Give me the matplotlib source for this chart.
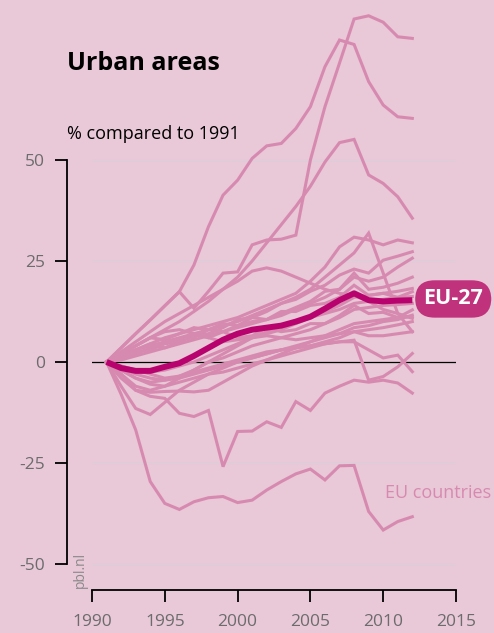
import numpy as np
import matplotlib
matplotlib.use("Agg")
import matplotlib.pyplot as plt

# years on the x axis
years = list(range(1991, 2013))

# urban area per EU country, % compared to 1991
country_a = [0, 3.5, 7, 10.4, 13.9, 17.4, 13.3, 17.5, 22, 22.3, 29, 30.2, 30.4, 31.4, 50, 63.2, 74, 84.9, 85.7, 84.1, 80.5, 80.1]
country_b = [0, 3.5, 7, 10.4, 13.9, 17.4, 24, 33.5, 41.3, 45, 50.4, 53.5, 54.1, 57.8, 63.2, 73.1, 79.7, 78.6, 69.4, 63.6, 60.7, 60.3]
country_c = [0, 2, 4, 6, 8, 10, 12.5, 15, 18, 21, 25, 29.5, 34, 38.5, 43.5, 49.5, 54.3, 55.1, 46.3, 44.2, 40.9, 35.6]
country_d = [0, -8, -16.8, -29.6, -35, -36.5, -34.6, -33.6, -33.3, -34.8, -34.2, -31.7, -29.6, -27.7, -26.5, -29.2, -25.7, -25.6, -37, -41.6, -39.5, -38.3]
country_e = [0, -4, -7, -8.5, -9, -12.7, -13.5, -12, -25.9, -17.2, -17.1, -14.8, -16.2, -9.8, -12, -7.7, -6, -4.5, -5, -4.5, -5.2, -7.7]
country_f = [0, -6, -11.5, -13, -10, -7, -5, -3, -1.5, 0, 1, 2, 3, 4, 5, 6, 7, 8.5, 9, 10, 10.5, 11.6]
country_g = [0, 1, 2, 3.5, 5, 6, 7, 8, 9, 10, 11.5, 13, 14.5, 16, 18, 21, 24, 27, 31.9, 22, 12, 7.5]
country_h = [0, 1.5, 3, 4.5, 6, 7, 8, 9, 10, 11, 12.5, 14, 15.5, 17, 20, 23.5, 28.5, 30.9, 30.2, 29, 30.2, 29.5]
country_i = [0, 2.5, 5, 7.5, 10, 12, 14, 16, 18, 20, 22.5, 23.3, 22.5, 21, 19.5, 18, 17, 16.5, 15, 13, 12, 10.8]
country_j = [0, 1, 2.5, 3, 4.5, 5, 6.5, 7, 8.5, 10.5, 11, 12.5, 14.5, 15.5, 17.5, 19, 21.5, 23, 22, 25.2, 26.2, 27.3]
country_k = [0, 0.5, 1.5, 2.5, 3.5, 4.5, 5.5, 6.5, 7.5, 8.5, 9.5, 10.5, 11.5, 13, 14.5, 16, 18, 21, 20, 21, 23.5, 25.7]
country_l = [0, 1.5, 3, 4, 5, 5.5, 6, 8, 7.5, 9, 11, 10.5, 12, 13.5, 15, 17.5, 18, 22, 18, 18.5, 19.5, 21]
country_m = [0, -1, -2, -2.5, -2, -1, 0, 1.5, 3, 4.5, 6, 7, 8, 9.5, 11, 12.5, 14, 16, 16.5, 17, 17.5, 18.2]
country_n = [0, 2, 4, 6, 5.5, 7, 8.5, 8, 9.5, 9, 10, 10.5, 12.5, 12.5, 14, 14.5, 16, 19, 16.5, 17, 16, 17.4]
country_o = [0, -2, -4, -5, -4.5, -3.5, -2, 0, 2, 4, 6, 7.5, 9, 10, 11, 12, 13, 14.5, 15, 15.5, 16, 16.2]
country_p = [0, -3, -6, -7, -6, -4, -2, 0, 1, 2.5, 4, 5, 6, 7, 8, 9.5, 11, 13, 13.5, 14, 14.2, 14.5]
country_q = [0, 2, 3, 4.5, 3.5, 5, 7, 6, 7.5, 6, 6.5, 8.5, 7.5, 8, 9.5, 9.5, 11.5, 14, 12, 12.3, 11, 12.9]
country_r = [0, -1.5, -3, -4, -4.5, -4, -3, -2, -1, 0, 1, 2, 3, 3.5, 4, 5, 6, 7.5, 8, 8.5, 9.2, 10]
country_s = [0, -2, -4, -5.5, -6, -5, -4, -3, -2.5, -1.5, -0.5, 0.5, 1.5, 2.5, 3.5, 4.5, 5, 5.4, -4.5, -3.6, -1.2, 2.1]
country_t = [0, -1, -2, -3, -4, -3.5, -2.5, -1.5, -0.5, 0.5, 1.5, 2.5, 3, 3.5, 4, 4.5, 5, 5, 3, 1, 1.7, -2.4]
country_u = [0, -3, -7, -7.5, -7.3, -7.2, -7.4, -7, -5, -3, -1, 0.5, 2, 3.5, 5, 6.5, 8, 9.5, 10, 10.5, 11, 11.2]
country_v = [0, 2, 4, 6, 7.5, 8, 7, 6, 5, 5.5, 6, 6.5, 6, 5.5, 6, 6.5, 7, 7.5, 6.5, 6.5, 7, 7.5]

countries = [country_a, country_b, country_c, country_d, country_e, country_f, country_g,
             country_h, country_i, country_j, country_k, country_l, country_m, country_n,
             country_o, country_p, country_q, country_r, country_s, country_t, country_u,
             country_v]

eu27 = [0, -1.5, -2.2, -2.2, -1.2, -0.3, 1.5, 3.5, 5.5, 7, 8, 8.5, 9, 10, 11.2, 13.2, 15.3, 17, 15.3, 15, 15.2, 15.3]

yticks = [-50, -25, 0, 25, 50]
xticks = [1990, 1995, 2000, 2005, 2010, 2015]

bg = "#e9c8d8"
pink = "#d78aaf"
magenta = "#b8036e"
grey = "#6c6c6c"

plt.rcParams["font.family"] = ["Open Sans", "DejaVu Sans"]
plt.rcParams["axes.unicode_minus"] = False

fig = plt.figure(figsize=(4.94, 6.33), dpi=100, facecolor=bg)
ax = fig.add_axes([92 / 494, 43 / 633, 364 / 494, 580 / 633])
ax.set_facecolor(bg)
ax.set_xlim(1990, 2015)
ax.set_ylim(-56.44, 87.13)

# grid lines and zero line
for v in [-50, -25, 25, 50]:
    ax.axhline(v, color="#dccfd8", lw=0.9, zorder=1)
ax.axhline(0, color="black", lw=0.9, zorder=2)

for c in countries:
    ax.plot(years, c, color=pink, lw=2.2, solid_joinstyle="miter", zorder=3, clip_on=False)
ax.plot(years, eu27, color=magenta, lw=4.3, solid_capstyle="butt", zorder=4, clip_on=False)

# axes styling
for s in ["top", "right"]:
    ax.spines[s].set_visible(False)
ax.spines["left"].set_position(("outward", 18))
ax.spines["left"].set_bounds(-50, 50)
ax.spines["left"].set_linewidth(1.3)
ax.spines["bottom"].set_linewidth(1.3)
ax.set_yticks(yticks)
ax.set_xticks(xticks)
ax.tick_params(axis="both", length=8.6, width=1.3, colors="black", labelcolor=grey,
               labelsize=12.5, pad=7)
ax.tick_params(axis="x", pad=9)

# texts
fig.text(67 / 494, 1 - 63 / 633, "Urban areas", fontsize=18, fontweight="bold",
         va="center", ha="left", color="black")
fig.text(67 / 494, 1 - 134 / 633, "% compared to 1991", fontsize=13,
         va="center", ha="left", color="black")
fig.text(80 / 494, 45 / 633, "pbl.nl", fontsize=10, rotation=90, color="#8a8a8a",
         ha="center", va="bottom")
ax.text(2010.13, -32.4, "EU countries", fontsize=13, color=pink, ha="left", va="center",
        clip_on=False)
ax.text(2014.81, 15.6, "EU-27", fontsize=15.5, fontweight="bold", color="white",
        ha="center", va="center", clip_on=False, zorder=5,
        bbox=dict(boxstyle="round,pad=0.38,rounding_size=0.9", fc="#c0337c", ec="none"))

fig.savefig("out.png", dpi=100, facecolor=bg)
